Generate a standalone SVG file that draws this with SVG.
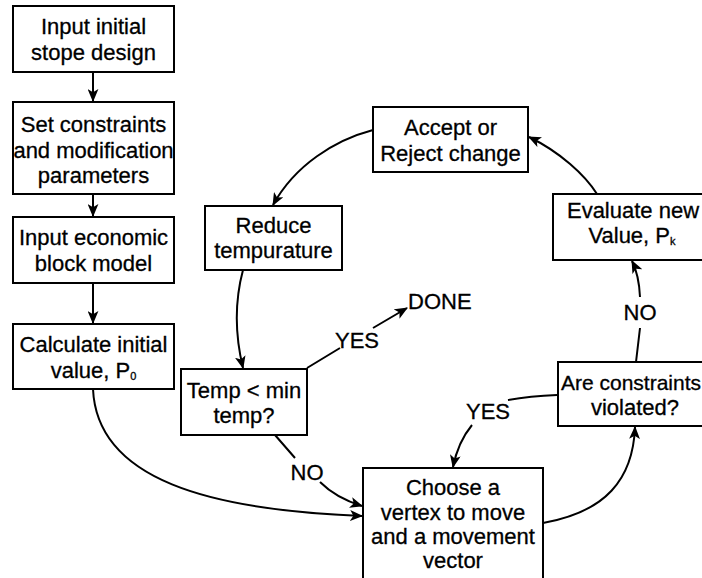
<svg xmlns="http://www.w3.org/2000/svg" width="702" height="578" viewBox="0 0 702 578">
  <style>
    .box { fill: #fff; stroke: #000; stroke-width: 2; }
    .lbl { font-family: "Liberation Sans", Arial, sans-serif; font-size: 22px; fill: #000; stroke: #000; stroke-width: 0.3; text-anchor: middle; }
    .sub { font-size: 11px; }
    .edge { fill: none; stroke: #000; stroke-width: 2; }
  </style>
  <defs>
    <marker id="arrow" viewBox="0 0 12 10" refX="11" refY="5" markerWidth="13" markerHeight="11" markerUnits="userSpaceOnUse" orient="auto">
      <path d="M0,0 L12,5 L0,10 L3,5 Z" fill="#000"/>
    </marker>
  </defs>
  <rect width="702" height="578" fill="#fff"/>

  <g id="connectors">
    <path class="edge" d="M93,72 L93,101" marker-end="url(#arrow)"/>
    <path class="edge" d="M93,194 L93,216" marker-end="url(#arrow)"/>
    <path class="edge" d="M93,283 L93,323" marker-end="url(#arrow)"/>
    <path class="edge" d="M93,389 C97,480 210,510 362,516" marker-end="url(#arrow)"/>
    <path class="edge" d="M275,435 L295,458 M320,482 Q336,498 362,506" marker-end="url(#arrow)"/>
    <path class="edge" d="M543,523 C605,512 633,480 635,427" marker-end="url(#arrow)"/>
    <path class="edge" d="M557,395 Q530,396 508,400 M472,425 Q458,442 453,467" marker-end="url(#arrow)"/>
    <path class="edge" d="M636,362 L640,328 M640,297 Q639,275 632,261" marker-end="url(#arrow)"/>
    <path class="edge" d="M597,194 C585,175 560,152 529,137" marker-end="url(#arrow)"/>
    <path class="edge" d="M373,130 C335,140 295,165 273,205" marker-end="url(#arrow)"/>
    <path class="edge" d="M243,270 C235,300 235,335 243,368" marker-end="url(#arrow)"/>
    <path class="edge" d="M307,368 L340,348 M373,328 L407,308" marker-end="url(#arrow)"/>
    <text class="lbl" x="357" y="348">YES</text>
    <text class="lbl" x="307" y="480">NO</text>
    <text class="lbl" x="488" y="419">YES</text>
    <text class="lbl" x="640" y="320">NO</text>
  </g>

  <g id="n-input-design">
    <rect class="box" x="13" y="6" width="161" height="66"/>
    <text class="lbl" x="93.5" y="34">Input initial</text>
    <text class="lbl" x="93.5" y="60">stope design</text>
  </g>
  <g id="n-constraints">
    <rect class="box" x="13" y="102" width="161" height="92"/>
    <text class="lbl" x="93.5" y="132">Set constraints</text>
    <text class="lbl" x="93.5" y="158">and modification</text>
    <text class="lbl" x="93.5" y="183">parameters</text>
  </g>
  <g id="n-block-model">
    <rect class="box" x="13" y="217" width="161" height="66"/>
    <text class="lbl" x="93.5" y="245">Input economic</text>
    <text class="lbl" x="93.5" y="271">block model</text>
  </g>
  <g id="n-initial-value">
    <rect class="box" x="13" y="324" width="161" height="65"/>
    <text class="lbl" x="93.5" y="352">Calculate initial</text>
    <text class="lbl" x="93.5" y="378">value, P<tspan class="sub" dy="2">0</tspan></text>
  </g>
  <g id="n-accept">
    <rect class="box" x="373" y="107" width="155" height="65"/>
    <text class="lbl" x="450.5" y="135">Accept or</text>
    <text class="lbl" x="450.5" y="161">Reject change</text>
  </g>
  <g id="n-reduce">
    <rect class="box" x="205" y="206" width="137" height="64"/>
    <text class="lbl" x="273.5" y="233">Reduce</text>
    <text class="lbl" x="273.5" y="258">tempurature</text>
  </g>
  <g id="n-evaluate">
    <rect class="box" x="553" y="194" width="160" height="66"/>
    <text class="lbl" x="633" y="218">Evaluate new</text>
    <text class="lbl" x="632" y="243">Value, P<tspan class="sub" dy="2">k</tspan></text>
  </g>
  <g id="n-done">
    <text class="lbl" x="408" y="309" style="text-anchor:start">DONE</text>
  </g>
  <g id="n-temp-check">
    <rect class="box" x="181" y="369" width="126" height="66"/>
    <text class="lbl" x="244" y="398">Temp &lt; min</text>
    <text class="lbl" x="244" y="423">temp?</text>
  </g>
  <g id="n-violated">
    <rect class="box" x="558" y="362" width="160" height="64"/>
    <text class="lbl" x="631" y="390" style="font-size:21px">Are constraints</text>
    <text class="lbl" x="635" y="415">violated?</text>
  </g>
  <g id="n-choose">
    <rect class="box" x="363" y="468" width="180" height="125"/>
    <text class="lbl" x="453" y="495">Choose a</text>
    <text class="lbl" x="453" y="520">vertex to move</text>
    <text class="lbl" x="453" y="544">and a movement</text>
    <text class="lbl" x="453" y="568">vector</text>
  </g>
</svg>
